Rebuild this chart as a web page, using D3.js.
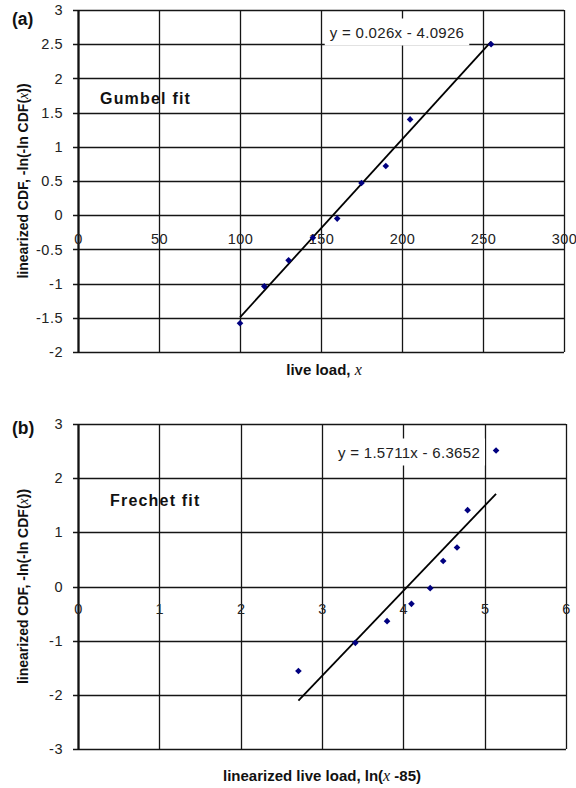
<!DOCTYPE html>
<html><head><meta charset="utf-8">
<script src="https://cdn.jsdelivr.net/npm/d3@7"></script>
<style>
body{margin:0;background:#fff;}
svg{display:block;font-family:"Liberation Sans",Arial,sans-serif;}
</style></head><body>
<svg id="chart" width="576" height="788"></svg>
<script>
// ---------- Panel (a): Gumbel fit ----------
const gumbelX = [100, 115, 130, 145, 160, 175, 190, 205, 255];
const gumbelY = [-1.58, -1.04, -0.66, -0.33, -0.05, 0.47, 0.72, 1.40, 2.50];
const gumbelTrend = [0.026, -4.0926];            // slope, intercept
const gumbelXTicks = [0, 50, 100, 150, 200, 250, 300];
const gumbelXTickLabels = ["0", "50", "100", "150", "200", "250", "300"];
const gumbelYTicks = [-2, -1.5, -1, -0.5, 0, 0.5, 1, 1.5, 2, 2.5, 3];
const gumbelYTickLabels = ["-2", "-1.5", "-1", "-0.5", "0", "0.5", "1", "1.5", "2", "2.5", "3"];

// ---------- Panel (b): Frechet fit ----------
const frechetX = [2.71, 3.41, 3.80, 4.10, 4.33, 4.49, 4.66, 4.79, 5.14];
const frechetY = [-1.56, -1.04, -0.64, -0.32, -0.03, 0.47, 0.72, 1.41, 2.51];
const frechetTrend = [1.5711, -6.3652];          // slope, intercept
const frechetXTicks = [0, 1, 2, 3, 4, 5, 6];
const frechetXTickLabels = ["0", "1", "2", "3", "4", "5", "6"];
const frechetYTicks = [-3, -2, -1, 0, 1, 2, 3];
const frechetYTickLabels = ["-3", "-2", "-1", "0", "1", "2", "3"];

const svg = d3.select("#chart");

function drawPanel(o) {
  const x = d3.scaleLinear().domain(o.xDomain).range([o.left, o.right]);
  const y = d3.scaleLinear().domain(o.yDomain).range([o.bottom, o.top]);
  const g = svg.append("g");
  const gridColor = "#151515";

  // horizontal gridlines (extend left as outer tick marks)
  g.append("g").selectAll("line").data(o.yTicks).join("line")
    .attr("x1", o.left - 5).attr("x2", o.right)
    .attr("y1", d => Math.round(y(d)) + 0.5).attr("y2", d => Math.round(y(d)) + 0.5)
    .attr("stroke", gridColor).attr("stroke-width", 1.3);
  // vertical gridlines
  g.append("g").selectAll("line").data(o.xTicks).join("line")
    .attr("x1", d => Math.round(x(d)) + 0.5).attr("x2", d => Math.round(x(d)) + 0.5)
    .attr("y1", o.top).attr("y2", o.bottom)
    .attr("stroke", gridColor).attr("stroke-width", 1.3);
  // thicker left axis line
  g.append("line").attr("x1", o.left + 0.5).attr("x2", o.left + 0.5)
    .attr("y1", o.top).attr("y2", o.bottom + 1)
    .attr("stroke", "#111").attr("stroke-width", 2.2);

  // y axis labels
  const yAxis = d3.axisLeft(y).tickValues(o.yTicks)
    .tickFormat((d, i) => o.yTickLabels[i]).tickSize(0).tickPadding(15);
  const ya = g.append("g").attr("transform", `translate(${o.left},0)`).call(yAxis);
  ya.select(".domain").remove();
  ya.selectAll("text").attr("font-size", 14.5).attr("fill", "#222")
    .attr("font-family", '"Liberation Sans",Arial,sans-serif').attr("letter-spacing", 0.5);

  // x axis labels placed at y = 0
  const xAxis = d3.axisBottom(x).tickValues(o.xTicks)
    .tickFormat((d, i) => o.xTickLabels[i]).tickSize(0).tickPadding(o.xPad);
  const xa = g.append("g").attr("transform", `translate(0,${y(0)})`).call(xAxis);
  xa.select(".domain").remove();
  xa.selectAll("text").attr("font-size", 14.5).attr("fill", "#222")
    .attr("font-family", '"Liberation Sans",Arial,sans-serif').attr("letter-spacing", 0.5);

  // trend line over data x range
  const [m, b] = o.trend;
  const xr = d3.extent(o.xs);
  g.append("line")
    .attr("x1", x(xr[0])).attr("y1", y(m * xr[0] + b))
    .attr("x2", x(xr[1])).attr("y2", y(m * xr[1] + b))
    .attr("stroke", "#000").attr("stroke-width", 1.8);

  // data points (diamonds)
  const sym = d3.symbol().type(d3.symbolSquare).size(22);
  g.append("g").selectAll("path").data(o.xs.map((v, i) => [v, o.ys[i]])).join("path")
    .attr("d", sym)
    .attr("transform", d => `translate(${x(d[0])},${y(d[1])}) rotate(45)`)
    .attr("fill", "#000080");

  // equation label with white background
  const eq = g.append("text")
    .attr("x", o.eqPos[0]).attr("y", o.eqPos[1])
    .attr("text-anchor", "middle").attr("dominant-baseline", "central")
    .attr("font-size", 15).attr("letter-spacing", 0.3).attr("fill", "#222")
    .text(o.eqText);
  const bb = eq.node().getBBox();
  g.insert("rect", () => eq.node())
    .attr("x", bb.x - 5).attr("y", bb.y - 5)
    .attr("width", bb.width + 10).attr("height", bb.height + 10)
    .attr("fill", "#fff");

  // fit annotation
  g.append("text").attr("x", o.fitPos[0]).attr("y", o.fitPos[1])
    .attr("font-size", 16).attr("font-weight", "bold").attr("letter-spacing", o.fitSpacing)
    .attr("dominant-baseline", "central").attr("fill", "#111")
    .text(o.fitText);

  // panel tag
  g.append("text").attr("x", o.tagPos[0]).attr("y", o.tagPos[1])
    .attr("font-size", 17.5).attr("font-weight", "bold")
    .attr("dominant-baseline", "central").attr("fill", "#111")
    .text(o.tag);

  // y axis title
  const yt = g.append("text")
    .attr("transform", `translate(${o.yTitleX},${(o.top + o.bottom) / 2}) rotate(-90)`)
    .attr("text-anchor", "middle")
    .attr("font-size", 14).attr("font-weight", "bold").attr("fill", "#111");
  yt.append("tspan").text("linearized CDF, -ln(-ln CDF(");
  yt.append("tspan").attr("font-family", '"Liberation Serif","Times New Roman",serif')
    .attr("font-style", "italic").attr("font-weight", "normal").text("x");
  yt.append("tspan").text("))");

  // x axis title
  const xt = g.append("text")
    .attr("x", o.xTitlePos[0]).attr("y", o.xTitlePos[1])
    .attr("text-anchor", "middle")
    .attr("font-size", 15).attr("font-weight", "bold").attr("fill", "#111");
  o.xTitleParts.forEach(p => {
    const t = xt.append("tspan").text(p.t);
    if (p.it) t.attr("font-family", '"Liberation Serif","Times New Roman",serif')
      .attr("font-style", "italic").attr("font-weight", "normal").attr("font-size", 16);
  });
}

drawPanel({
  left: 78, right: 564, top: 10, bottom: 352,
  xDomain: [0, 300], yDomain: [-2, 3],
  xTicks: gumbelXTicks, xTickLabels: gumbelXTickLabels,
  yTicks: gumbelYTicks, yTickLabels: gumbelYTickLabels,
  xPad: 19,
  xs: gumbelX, ys: gumbelY, trend: gumbelTrend,
  eqText: "y = 0.026x - 4.0926", eqPos: [397, 32],
  fitText: "Gumbel fit", fitPos: [100, 98], fitSpacing: 1.2,
  tag: "(a)", tagPos: [12, 19],
  yTitleX: 28,
  xTitlePos: [324, 375],
  xTitleParts: [{t: "live load,  "}, {t: "x", it: true}]
});

drawPanel({
  left: 78, right: 566, top: 424, bottom: 749,
  xDomain: [0, 6], yDomain: [-3, 3],
  xTicks: frechetXTicks, xTickLabels: frechetXTickLabels,
  yTicks: frechetYTicks, yTickLabels: frechetYTickLabels,
  xPad: 17,
  xs: frechetX, ys: frechetY, trend: frechetTrend,
  eqText: "y = 1.5711x - 6.3652", eqPos: [409, 452],
  fitText: "Frechet fit", fitPos: [110, 500], fitSpacing: 1.2,
  tag: "(b)", tagPos: [12, 428],
  yTitleX: 28,
  xTitlePos: [322, 781],
  xTitleParts: [{t: "linearized live load,  ln("}, {t: "x", it: true}, {t: " -85)"}]
});
</script>
</body></html>
